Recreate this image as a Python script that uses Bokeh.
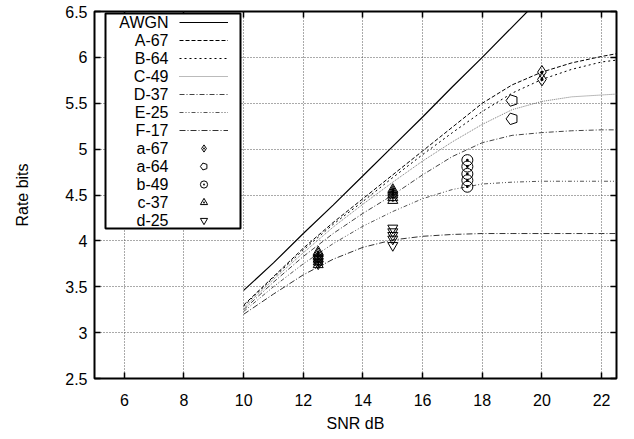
import numpy as np
from bokeh.plotting import figure
from bokeh.models import (Range1d, LinearAxis, Legend, LegendItem, BoxAnnotation,
                          FixedTicker, CustomLabelingPolicy, Label)
from bokeh.embed import file_html
from bokeh.resources import INLINE

# ---------------- data ----------------
snr = [10, 11, 12, 13, 14, 15, 16, 17, 18, 19, 20, 21, 22, 22.5]
awgn_snr = [10, 11, 12, 13, 14, 15, 16, 17, 18, 19, 20]
awgn = [3.46, 3.76, 4.08, 4.39, 4.71, 5.03, 5.35, 5.68, 6.00, 6.33, 6.66]
A67 = [3.30, 3.61, 3.92, 4.20, 4.46, 4.72, 4.98, 5.24, 5.50, 5.70, 5.84, 5.94, 6.01, 6.04]
B64 = [3.29, 3.60, 3.90, 4.18, 4.43, 4.69, 4.94, 5.18, 5.41, 5.61, 5.76, 5.87, 5.95, 5.97]
C49 = [3.27, 3.58, 3.87, 4.15, 4.40, 4.64, 4.87, 5.08, 5.27, 5.43, 5.52, 5.57, 5.59, 5.60]
D37 = [3.25, 3.55, 3.83, 4.08, 4.30, 4.50, 4.72, 4.92, 5.07, 5.15, 5.18, 5.20, 5.21, 5.21]
E25 = [3.23, 3.50, 3.75, 3.97, 4.16, 4.32, 4.46, 4.56, 4.62, 4.64, 4.65, 4.65, 4.65, 4.65]
F17 = [3.20, 3.42, 3.63, 3.80, 3.93, 4.01, 4.05, 4.07, 4.08, 4.08, 4.08, 4.08, 4.08, 4.08]

a67_x = [20, 20]
a67_y = [5.84, 5.76]
a64_x = [19, 19]
a64_y = [5.53, 5.33]
b49_x = [17.5, 17.5, 17.5, 17.5, 17.5]
b49_y = [4.88, 4.81, 4.73, 4.66, 4.59]
c37_x = [12.5, 12.5, 12.5, 12.5, 12.5, 12.5, 15, 15, 15, 15, 15, 15]
c37_y = [3.74, 3.77, 3.80, 3.83, 3.86, 3.88, 4.44, 4.47, 4.50, 4.52, 4.54, 4.56]
d25_x = [12.5, 12.5, 12.5, 15, 15, 15, 15, 15]
d25_y = [3.75, 3.78, 3.81, 3.95, 4.02, 4.06, 4.10, 4.14]

series_names = ["AWGN", "A-67", "B-64", "C-49", "D-37", "E-25", "F-17",
                "a-67", "a-64", "b-49", "c-37", "d-25"]
x_ticks = [6, 8, 10, 12, 14, 16, 18, 20, 22]
y_ticks = [2.5, 3, 3.5, 4, 4.5, 5, 5.5, 6, 6.5]

FONT = "Liberation Sans"
FS = "16px"
FRAME_H = 371
ROW = 18
LEG_TOP = 13   # px below canvas top (frame top = 7)

p = figure(width=634, height=439, x_range=Range1d(5, 22.5), y_range=Range1d(2.5, 6.5),
           output_backend="svg", toolbar_location=None,
           min_border_left=94, min_border_right=17, min_border_top=7, min_border_bottom=61)
p.background_fill_color = "white"
p.border_fill_color = "white"
p.outline_line_color = "black"
p.outline_line_width = 2

for ax in p.xaxis + p.yaxis:
    ax.major_label_text_font = FONT
    ax.major_label_text_font_size = FS
    ax.major_label_text_color = "black"
    ax.axis_label_text_font = FONT
    ax.axis_label_text_font_size = FS
    ax.axis_label_text_font_style = "normal"
    ax.axis_label_text_color = "black"
    ax.major_tick_in = 6
    ax.major_tick_out = 0
    ax.minor_tick_in = 0
    ax.minor_tick_out = 0
    ax.axis_line_alpha = 0
    ax.major_tick_line_color = "black"
    ax.major_tick_line_width = 1.5

p.xaxis.ticker = FixedTicker(ticks=x_ticks)
p.yaxis.ticker = FixedTicker(ticks=y_ticks)
p.xaxis.axis_label = "SNR dB"
p.yaxis.axis_label = "Rate bits"
p.xaxis.major_label_standoff = 15
p.xaxis.axis_label_standoff = 6
p.yaxis.major_label_standoff = 7
p.yaxis.axis_label_standoff = 31

no_labels = CustomLabelingPolicy(code="""
    for (const i of Array.from(indices)) indices.unset(i)
    return indices
""")
for loc, tk in (("above", x_ticks), ("right", y_ticks)):
    ax = LinearAxis(ticker=FixedTicker(ticks=tk), major_label_policy=no_labels,
                    major_label_standoff=0, major_tick_in=6, major_tick_out=0,
                    minor_tick_in=0, minor_tick_out=0, axis_line_alpha=0,
                    major_tick_line_width=1.5)
    p.add_layout(ax, loc)

p.xgrid.ticker = FixedTicker(ticks=x_ticks)
p.ygrid.ticker = FixedTicker(ticks=y_ticks)
for g in (p.xgrid, p.ygrid):
    g.grid_line_color = "#555555"
    g.grid_line_dash = "1 2"
    g.grid_line_width = 1

r_awgn = p.line(awgn_snr, awgn, line_color="black", line_width=1.2)
r_a = p.line(snr, A67, line_color="black", line_width=1, line_dash="4 2")
r_b = p.line(snr, B64, line_color="black", line_width=1, line_dash="2 3")
r_c = p.line(snr, C49, line_color="#777777", line_width=1, line_dash="1 1")
r_d = p.line(snr, D37, line_color="#444444", line_width=1, line_dash="5 2 1 2")
r_e = p.line(snr, E25, line_color="#555555", line_width=1, line_dash="4 2 1 2 1 2")
r_f = p.line(snr, F17, line_color="#333333", line_width=1, line_dash="6 2 1 2")

r_m1 = p.scatter(a67_x, a67_y, marker="diamond_dot", size=13,
                 fill_color=None, line_color="black", line_width=1)
r_m2 = p.ngon(a64_x, a64_y, radius=6, radius_units="screen", n=5, angle=np.pi / 2,
              fill_color=None, line_color="black", line_width=1)
r_m3 = p.scatter(b49_x, b49_y, marker="circle_dot", size=11, fill_color=None,
                 line_color="black", line_width=1)
r_m4 = p.scatter(c37_x, c37_y, marker="triangle_dot", size=10, fill_color=None,
                 line_color="black", line_width=1)
r_m5 = p.scatter(d25_x, d25_y, marker="inverted_triangle", size=10, fill_color=None,
                 line_color="black", line_width=1)

# legend frame (screen units, measured from the frame's bottom-left corner)
box = BoxAnnotation(left=11, right=146, top=FRAME_H - 6, bottom=FRAME_H - 221,
                    left_units="screen", right_units="screen",
                    top_units="screen", bottom_units="screen",
                    fill_color="white", fill_alpha=1.0, line_color="black",
                    line_width=2, line_alpha=1.0)
p.add_layout(box)

rends = [r_awgn, r_a, r_b, r_c, r_d, r_e, r_f, r_m1, r_m2, r_m3, r_m4, r_m5]
n_rows = len(series_names)
legend = Legend(items=[LegendItem(label="", renderers=[r]) for r in rends],
                location=(85, FRAME_H - (LEG_TOP - 7) - ROW * n_rows),
                orientation="vertical",
                glyph_width=49, glyph_height=ROW, label_height=ROW, label_width=0,
                label_standoff=0,
                label_text_font=FONT, label_text_font_size=FS,
                padding=0, spacing=0, margin=0,
                border_line_alpha=0, background_fill_alpha=0)
p.add_layout(legend)

# legend texts, right-aligned left of the samples (as in the reference)
for i, name in enumerate(series_names):
    cy = (LEG_TOP - 7) + ROW * i + ROW / 2
    p.add_layout(Label(x=74, y=FRAME_H - cy, x_units="screen", y_units="screen",
                       text=name, text_align="right", text_baseline="middle",
                       text_font=FONT, text_font_size=FS, text_color="black"))

open("out.html", "w").write(file_html(p, INLINE))
